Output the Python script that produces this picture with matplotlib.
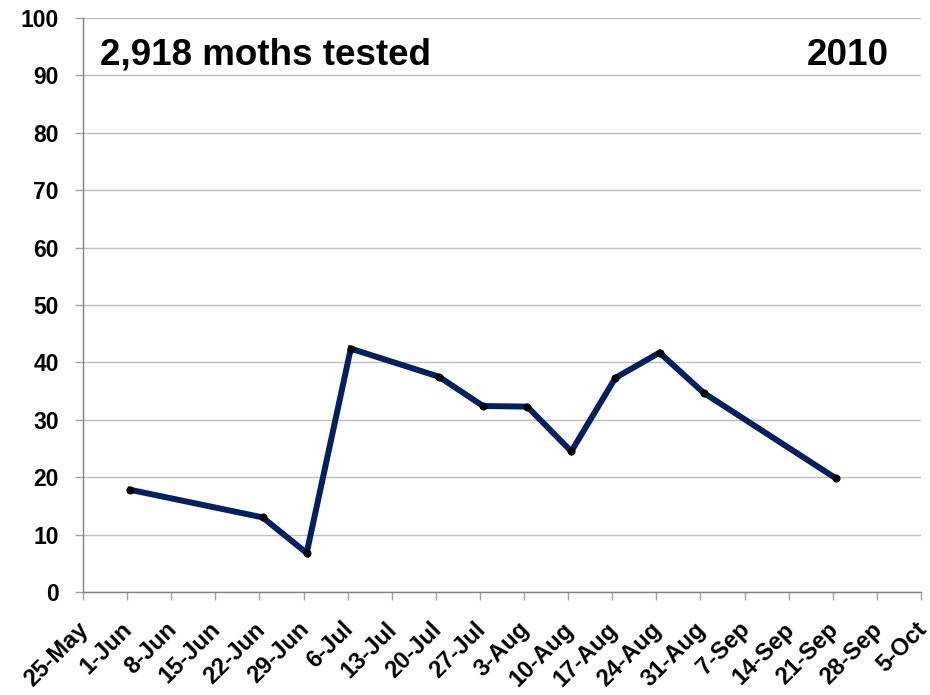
import matplotlib
matplotlib.use("Agg")
import matplotlib.pyplot as plt
import matplotlib.transforms as mtrans
import numpy as np
import datetime as dt

plt.rcParams['font.family'] = ['Liberation Sans', 'DejaVu Sans']

# Data
sample_dates = ["2010-06-01", "2010-06-22", "2010-06-29", "2010-07-06", "2010-07-20",
                "2010-07-27", "2010-08-03", "2010-08-10", "2010-08-17", "2010-08-24",
                "2010-08-31", "2010-09-21"]
percent = [17.8, 13.0, 6.8, 42.4, 37.5, 32.4, 32.3, 24.5, 37.3, 41.7, 34.7, 19.8]
tick_labels = ["25-May", "1-Jun", "8-Jun", "15-Jun", "22-Jun", "29-Jun", "6-Jul", "13-Jul",
               "20-Jul", "27-Jul", "3-Aug", "10-Aug", "17-Aug", "24-Aug", "31-Aug", "7-Sep",
               "14-Sep", "21-Sep", "28-Sep", "5-Oct"]
title_text = "2,918 moths tested"
year_text = "2010"

start = dt.datetime(2010, 5, 25)
tick_dates = [start + dt.timedelta(days=7 * i) for i in range(len(tick_labels))]
# Excel date axis: points centred within their day
xs = [dt.datetime.strptime(d, "%Y-%m-%d") + dt.timedelta(hours=12) for d in sample_dates]

fig = plt.figure(figsize=(9.3, 6.95), dpi=100)
ax = fig.add_axes([83 / 930, 1 - 592 / 695, (921 - 83) / 930, (592 - 18) / 695])

ax.plot(xs, percent, color='#002060', linewidth=4.3, solid_joinstyle='miter', zorder=3)
ax.plot(xs, percent, linestyle='none', marker='o', markersize=4.8, color='black', zorder=4)

ax.set_xlim(tick_dates[0], tick_dates[-1])
ax.set_ylim(0, 100)
ax.set_yticks(np.arange(0, 101, 10))
ax.set_xticks(tick_dates)
ax.set_xticklabels(tick_labels, rotation=45, ha='right', va='top', rotation_mode='default')

ax.yaxis.grid(True, color='#bfbfbf', linewidth=1.0)
ax.set_axisbelow(True)
for s in ['top', 'right']:
    ax.spines[s].set_visible(False)
for s in ['left', 'bottom']:
    ax.spines[s].set_color('#808080')
    ax.spines[s].set_linewidth(1.0)

ax.tick_params(axis='both', direction='out', length=5.5, width=1.0, color='#a0a0a0')
ax.tick_params(axis='y', pad=12, labelsize=16.5)
ax.tick_params(axis='x', pad=13, labelsize=17)
for lab in ax.get_yticklabels() + ax.get_xticklabels():
    lab.set_fontweight('bold')
offset = mtrans.ScaledTranslation(10 / 100, 0, fig.dpi_scale_trans)
for lab in ax.get_xticklabels():
    lab.set_transform(lab.get_transform() + offset)

fig.text(100 / 930, 1 - 65 / 695, title_text, fontsize=26.5, fontweight='bold', ha='left', va='baseline')
fig.text(889 / 930, 1 - 65 / 695, year_text, fontsize=26.5, fontweight='bold', ha='right', va='baseline')

fig.savefig("out.png", dpi=100)
